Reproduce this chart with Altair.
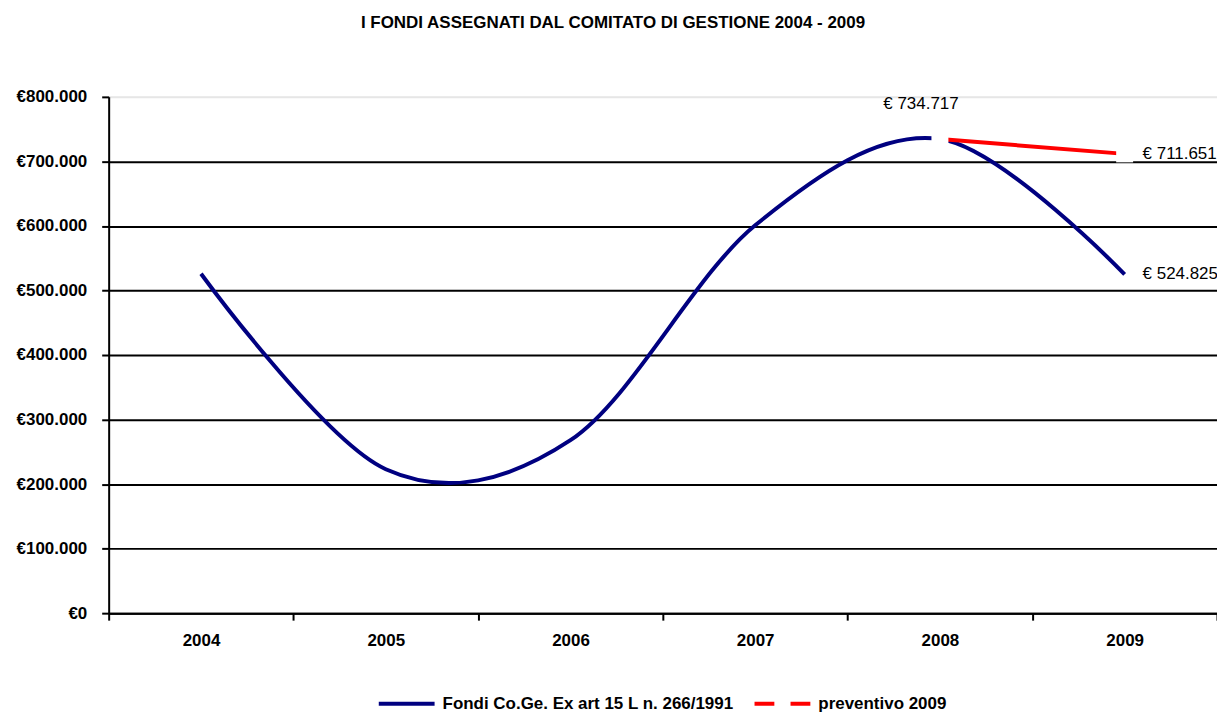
import altair as alt
import pandas as pd

years = ["2004", "2005", "2006", "2007", "2008", "2009"]
fondi = [526000, 223000, 268000, 601000, 734717, 524825]
prev_years = ["2008", "2009"]
preventivo = [734717, 711651]
series_names = ["Fondi Co.Ge. Ex art 15 L n. 266/1991", "preventivo 2009"]
series_colors = ["#000080", "#FF0000"]
y_ticks = [0, 100000, 200000, 300000, 400000, 500000, 600000, 700000, 800000]
title_text = "I FONDI ASSEGNATI DAL COMITATO DI GESTIONE 2004 - 2009"

FONT = "Liberation Sans"

df_blue = pd.DataFrame({"year": years, "value": fondi, "series": series_names[0]})
df_red = pd.DataFrame({"year": prev_years, "value": preventivo, "series": series_names[1]})
df_all = pd.concat([df_blue, df_red], ignore_index=True)

euro_fmt = "replace(format(datum.value, ',.0f'), regexp(',', 'g'), '.')"

x_enc = alt.X(
    "year:O",
    bandPosition=0.5,
    scale=alt.Scale(type="band", domain=years, paddingInner=0, paddingOuter=0),
    axis=alt.Axis(
        title=None, labelAngle=0, tickBand="extent", grid=False,
        domainColor="black", domainWidth=2, tickColor="black", tickWidth=2,
        tickSize=7, labelPadding=12, labelFont=FONT, labelFontSize=17,
        labelFontWeight="bold", labelColor="black",
    ),
)
y_enc = alt.Y(
    "value:Q",
    scale=alt.Scale(domain=[0, 800000], nice=False, zero=True),
    axis=alt.Axis(
        title=None, values=y_ticks, labelExpr="'€' + " + euro_fmt,
        grid=True,
        gridColor={"condition": {"test": "datum.value >= 800000", "value": "#e6e6e6"}, "value": "#000000"},
        gridWidth=2, domainColor="black", domainWidth=2, tickColor="black",
        tickWidth=2, tickSize=7, labelPadding=15, labelFont=FONT,
        labelFontSize=17, labelFontWeight="bold", labelColor="black",
    ),
)

blue_line = alt.Chart(df_blue).mark_line(
    color=series_colors[0], strokeWidth=4, interpolate="cardinal", tension=0
).encode(x=x_enc, y=y_enc)

red_line = alt.Chart(df_red).mark_line(
    color=series_colors[1], strokeWidth=4
).encode(x=x_enc, y=y_enc)

white_marks = alt.Chart(df_red).mark_point(
    shape="square", filled=True, color="white", size=289, strokeWidth=0, opacity=1
).encode(x=x_enc, y=y_enc)

label_top = alt.Chart(df_blue).transform_filter(
    "datum.year == '2008'"
).transform_calculate(
    label="'€ ' + " + euro_fmt
).mark_text(
    font=FONT, fontSize=17, color="black", align="center", baseline="middle", dx=-19, dy=-35
).encode(x=x_enc, y=y_enc, text="label:N")

label_right = alt.Chart(df_all).transform_filter(
    "datum.year == '2009'"
).transform_calculate(
    label="'€ ' + " + euro_fmt
).mark_text(
    font=FONT, fontSize=17, color="black", align="left", baseline="middle", dx=18
).encode(x=x_enc, y=y_enc, text="label:N")

legend_props = dict(
    title=None, orient="none", legendX=269, legendY=579,
    direction="horizontal", labelFont=FONT, labelFontSize=17,
    labelFontWeight="bold", labelColor="black", labelOffset=6,
    columnPadding=13, symbolSize=3136, symbolStrokeWidth=4,
    symbolOpacity=1, labelLimit=400,
)

legend_layer = alt.Chart(df_all).mark_point(
    filled=False, strokeWidth=4, opacity=0
).encode(
    x=x_enc, y=y_enc,
    color=alt.Color(
        "series:N",
        scale=alt.Scale(domain=series_names, range=series_colors),
        legend=alt.Legend(**legend_props),
    ),
    shape=alt.Shape(
        "series:N",
        scale=alt.Scale(domain=series_names, range=["M-1,0H1", "M-1,0H-0.29M0.29,0H1"]),
        legend=alt.Legend(**legend_props),
    ),
)

chart = alt.layer(
    blue_line, red_line, white_marks, label_top, label_right, legend_layer
).properties(
    width=1112,
    height=518,
    autosize=alt.AutoSizeParams(type="none"),
    padding={"left": 101, "top": 88, "right": 0, "bottom": 98},
    title=alt.TitleParams(
        text=title_text, font=FONT, fontSize=17, fontWeight="bold",
        color="black", anchor="middle", frame="group", dx=-50, offset=56,
    ),
).configure_view(strokeWidth=0).configure(background="white")

chart.save("out.html", embed_options={"renderer": "svg", "actions": False})
